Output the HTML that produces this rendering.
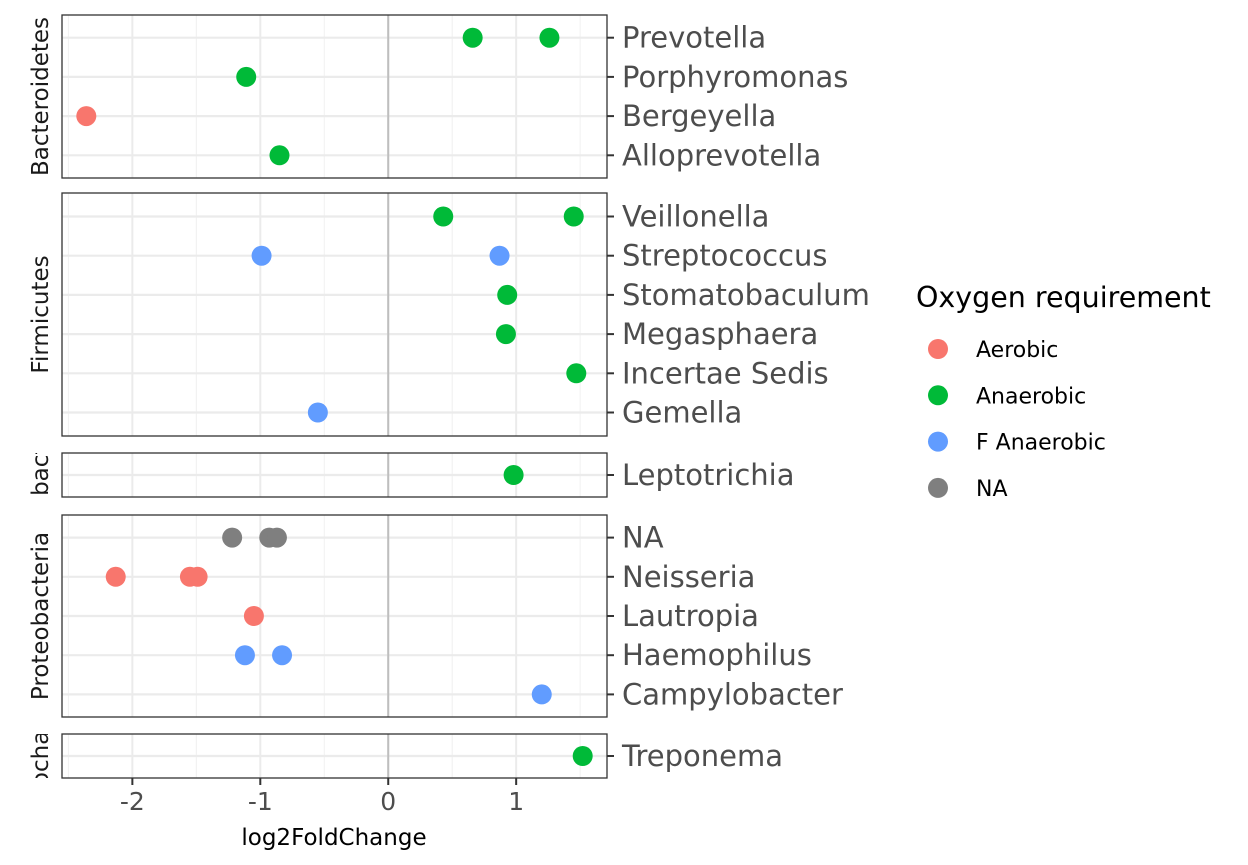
<!DOCTYPE html>
<html><head><meta charset="utf-8"><style>
html,body{margin:0;padding:0;background:#fff;}
svg{display:block;font-family:"DejaVu Sans","Liberation Sans",sans-serif;}
</style></head><body>
<svg id="chart" width="1248" height="865" viewBox="0 0 1248 865" xmlns="http://www.w3.org/2000/svg"></svg>
<script>
const phyla = ["Bacteroidetes","Firmicutes","Fusobacteria","Proteobacteria","Spirochaetes"];
const genera = [
 ["Prevotella","Porphyromonas","Bergeyella","Alloprevotella"],
 ["Veillonella","Streptococcus","Stomatobaculum","Megasphaera","Incertae Sedis","Gemella"],
 ["Leptotrichia"],
 ["NA","Neisseria","Lautropia","Haemophilus","Campylobacter"],
 ["Treponema"]
];
const pointGenus = ["Prevotella","Prevotella","Porphyromonas","Bergeyella","Alloprevotella","Veillonella","Veillonella","Streptococcus","Streptococcus","Stomatobaculum","Megasphaera","Incertae Sedis","Gemella","Leptotrichia","NA","NA","NA","Neisseria","Neisseria","Neisseria","Lautropia","Haemophilus","Haemophilus","Campylobacter","Treponema"];
const pointFC = [0.66,1.26,-1.11,-2.36,-0.85,0.43,1.45,-0.99,0.87,0.93,0.92,1.47,-0.55,0.98,-1.22,-0.93,-0.87,-2.13,-1.55,-1.49,-1.05,-1.12,-0.83,1.2,1.52];
const pointOxy = ["Anaerobic","Anaerobic","Anaerobic","Aerobic","Anaerobic","Anaerobic","Anaerobic","F Anaerobic","F Anaerobic","Anaerobic","Anaerobic","Anaerobic","F Anaerobic","Anaerobic","NA","NA","NA","Aerobic","Aerobic","Aerobic","Aerobic","F Anaerobic","F Anaerobic","F Anaerobic","Anaerobic"];
const legendLevels = ["Aerobic","Anaerobic","F Anaerobic","NA"];
const xTicks = [-2,-1,0,1];
const xTickLabels = ["-2","-1","0","1"];
const colors = {"Aerobic":"#F8766D","Anaerobic":"#00BA38","F Anaerobic":"#619CFF","NA":"#7F7F7F"};

const NS="http://www.w3.org/2000/svg";
const svg=document.getElementById('chart');
function el(t,a,p){const e=document.createElementNS(NS,t);for(const k in a)e.setAttribute(k,a[k]);(p||svg).appendChild(e);return e;}
const L=62,R=607,xmin=-2.55,xmax=1.71;
const x=v=>L+(v-xmin)/(xmax-xmin)*(R-L);
const rowH=39.2;
const panelTops=[15,193,453,515,734], panelBots=[178,436,497,717,778];
const panelY={};const rowY={};
const defs=el('defs',{});
phyla.forEach((ph,i)=>{
  const n=genera[i].length;
  const yTop=panelTops[i], h=panelBots[i]-panelTops[i];
  const pad=(h-(n-1)*rowH)/2;
  const g=el('g',{});
  
  
  for(let m=-2.5;m<=1.5;m+=1){el('line',{x1:x(m),x2:x(m),y1:yTop,y2:yTop+h,stroke:'#f0f0f0','stroke-width':1},g);}
  xTicks.forEach(t=>{el('line',{x1:x(t),x2:x(t),y1:yTop,y2:yTop+h,stroke:'#ebebeb','stroke-width':2},g);});
  genera[i].forEach((gn,j)=>{
    const y=yTop+pad+j*rowH;rowY[gn]=y;
    el('line',{x1:L,x2:R,y1:y,y2:y,stroke:'#ebebeb','stroke-width':2.2},g);
    el('line',{x1:R,x2:R+7,y1:y,y2:y,stroke:'#333','stroke-width':2},g);
    const t=el('text',{x:622,y:y+10,'font-size':29,fill:'#4d4d4d'},g);t.textContent=gn;
    
    
  });
  el('line',{x1:x(0),x2:x(0),y1:yTop,y2:yTop+h,stroke:'#bebebe','stroke-width':2},g);
  const cp=el('clipPath',{id:'cp'+i},defs);el('rect',{x:0,y:yTop,width:60,height:h},cp);
  const sg=el('g',{'clip-path':'url(#cp'+i+')'},g);
  const st=el('text',{x:0,y:0,'font-size':23,fill:'#1a1a1a','text-anchor':'middle',transform:'translate(48,'+(yTop+h/2)+') rotate(-90)'},sg);
  st.textContent=ph;
  
  
  panelY[ph]={top:yTop,h:h};
});
pointFC.forEach((v,k)=>{
  const c=el('circle',{cx:x(v),cy:rowY[pointGenus[k]],r:10,fill:colors[pointOxy[k]]});
  
  
});
phyla.forEach(ph=>{const p=panelY[ph];el('rect',{x:L,y:p.top,width:R-L,height:p.h,fill:'none',stroke:'#333','stroke-width':1.3});});
const last=panelY[phyla[phyla.length-1]];const ab=last.top+last.h;
xTicks.forEach((t,i)=>{
  el('line',{x1:x(t),x2:x(t),y1:ab,y2:ab+7,stroke:'#333','stroke-width':2});
  const tx=el('text',{x:x(t),y:ab+32,'font-size':25,fill:'#4d4d4d','text-anchor':'middle'});tx.textContent=xTickLabels[i];
  
  
});
const xt=el('text',{x:334,y:845,'font-size':23,fill:'#000','text-anchor':'middle'});xt.textContent='log2FoldChange';


const lt=el('text',{x:916,y:307,'font-size':28.5,fill:'#000'});lt.textContent='Oxygen requirement';


legendLevels.forEach((lv,i)=>{
  const y=349+i*46.3;
  const g=el('g',{});
  
  
  el('circle',{cx:938,cy:y,r:10,fill:colors[lv]},g);
  const t=el('text',{x:976,y:y+8,'font-size':22,fill:'#000'},g);t.textContent=lv;
});
</script>
</body></html>
